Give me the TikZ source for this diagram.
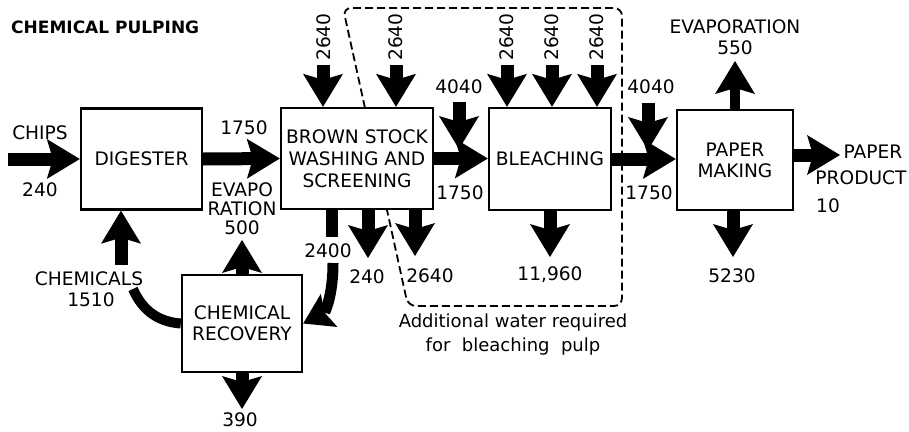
\documentclass[tikz,border=0pt]{standalone}
\usepackage{fontspec}
\setmainfont{DejaVu Sans}
\usetikzlibrary{arrows.meta}
\begin{document}
\begin{tikzpicture}[x=1pt,y=-1pt,
  every node/.style={font=\fontsize{18.6}{21}\selectfont,inner sep=0pt},
  box/.style={draw,line width=2.4pt,align=center},
  bigarrow/.style={line width=13pt,-{Stealth[length=33pt,width=40pt,inset=6pt,line width=0pt]}},
  curvearrow/.style={line width=11pt,-{Stealth[length=29pt,width=37pt,inset=5pt,line width=0pt]}},
  shaft/.style={line width=12pt},
  thinshaft/.style={line width=10pt},
  dashbox/.style={line width=1.8pt,dash pattern=on 8pt off 4pt,rounded corners=8pt},
  lbl/.style={align=center}]
\useasboundingbox (0,0) rectangle (909,431);
% boxes
\node[box,minimum width=121pt,minimum height=101pt] (dig) at (141.5,159) {DIGESTER};
\node[box,minimum width=152pt,minimum height=101pt,font=\fontsize{18.6}{22}\selectfont] (bsw) at (357,158.5) {BROWN STOCK\\WASHING AND\\SCREENING};
\node[box,minimum width=122pt,minimum height=102pt] (bl) at (550,159) {BLEACHING};
\node[box,minimum width=116pt,minimum height=100pt] (pm) at (735,160) {PAPER\\MAKING};
\node[box,minimum width=120pt,minimum height=97pt] (cr) at (242,323.5) {CHEMICAL\\RECOVERY};
% title
\node[anchor=west,font=\fontsize{17}{19}\bfseries] (title) at (11,27) {CHEMICAL PULPING};
% dashed outline
\draw[dashbox] (365,108) -- (343,8) -- (622,8) -- (622,306) -- (408,306) -- (387,210);
% horizontal arrows
\coordinate (chipsin) at (8,159);
\draw[bigarrow] (chipsin) -- (dig.west);
\draw[bigarrow] (dig.east) -- (bsw.west);
\draw[bigarrow] (bsw.east) -- (bsw.east -| bl.west);
\draw[bigarrow] (bl.east) -- (bl.east -| pm.west);
\coordinate (prodtip) at (840,155);
\draw[bigarrow] (pm.east |- prodtip) -- (prodtip);
% top arrows into brown stock
\coordinate (ta) at (323,65);
\coordinate (tb) at (396,65);
\draw[bigarrow] (ta) -- (ta |- bsw.north);
\draw[bigarrow] (tb) -- (tb |- bsw.north);
\node[rotate=90] (la) at (324,37) {2640};
\node[rotate=90] (lb) at (396,37) {2640};
% 4040 arrows
\coordinate (w1) at (459,102);
\coordinate (w1e) at (459,149);
\draw[bigarrow] (w1) -- (w1e);
\coordinate (w2) at (648,103);
\coordinate (w2e) at (648,150);
\draw[bigarrow] (w2) -- (w2e);
% top arrows into bleaching
\coordinate (tc) at (507,65);
\coordinate (td) at (552,65);
\coordinate (te) at (597,65);
\draw[bigarrow] (tc) -- (tc |- bl.north);
\draw[bigarrow] (td) -- (td |- bl.north);
\draw[bigarrow] (te) -- (te |- bl.north);
\node[rotate=90] (lc) at (507,37) {2640};
\node[rotate=90] (ld) at (552,37) {2640};
\node[rotate=90] (le) at (597,37) {2640};
% evaporation from paper making
\coordinate (evap) at (735,61);
\draw[bigarrow,line width=10pt] (pm.north) -- (evap);
% bottom outputs
\coordinate (s2400) at (332,237);
\draw[shaft] (s2400 |- bsw.south) -- (s2400);
\coordinate (c2400) at (333,263);
\draw[curvearrow] (c2400) .. controls (333,298) and (324,313) .. (cr.east);
\coordinate (o240) at (368,258);
\draw[bigarrow] (o240 |- bsw.south) -- (o240);
\coordinate (o2640) at (415,256);
\draw[bigarrow] (o2640 |- bsw.south) -- (o2640);
\coordinate (o11960) at (550,257);
\draw[bigarrow] (bl.south) -- (o11960);
\coordinate (o5230) at (733,257);
\draw[bigarrow] (o5230 |- pm.south) -- (o5230);
\coordinate (o500) at (242,240);
\draw[bigarrow] (cr.north) -- (o500);
\coordinate (o390) at (242,409);
\draw[bigarrow] (cr.south) -- (o390);
% chemicals return (split by its label)
\coordinate (cstart) at (133,289);
\draw[thinshaft] (cstart) .. controls (143,312) and (160,322) .. (cr.west);
\coordinate (cup) at (121,265);
\draw[bigarrow] (cup) -- (cup |- dig.south);
% labels
\node (lchips) at (40,133) {CHIPS};
\node (l240) at (40,190) {240};
\node (l1750a) at (244,128) {1750};
\node[lbl,font=\fontsize{18.6}{19}\selectfont] (levapo) at (242,209) {EVAPO\\RATION\\500};
\node (l4040a) at (459,87) {4040};
\node (l1750b) at (460,193) {1750};
\node (l4040b) at (651,87) {4040};
\node (l1750c) at (649,193) {1750};
\node (levap) at (735,27) {EVAPORATION};
\node (l550) at (735,48) {550};
\node (lpaper) at (873,152) {PAPER};
\node (lproduct) at (861,178) {PRODUCT};
\node (l10) at (828,206) {10};
\node (lchem) at (89,279) {CHEMICALS};
\node (l1510) at (91,300) {1510};
\node (l2400) at (328,251) {2400};
\node (l240b) at (367,277) {240};
\node (l2640b) at (430,276) {2640};
\node (l11960) at (550,275) {11,960};
\node (l5230) at (732,276) {5230};
\node (l390) at (240,420) {390};
\node[lbl,font=\fontsize{18}{24}\selectfont] (ladd) at (513,335) {Additional water required\\for\ \ bleaching\ \ pulp};
\end{tikzpicture}
\end{document}
